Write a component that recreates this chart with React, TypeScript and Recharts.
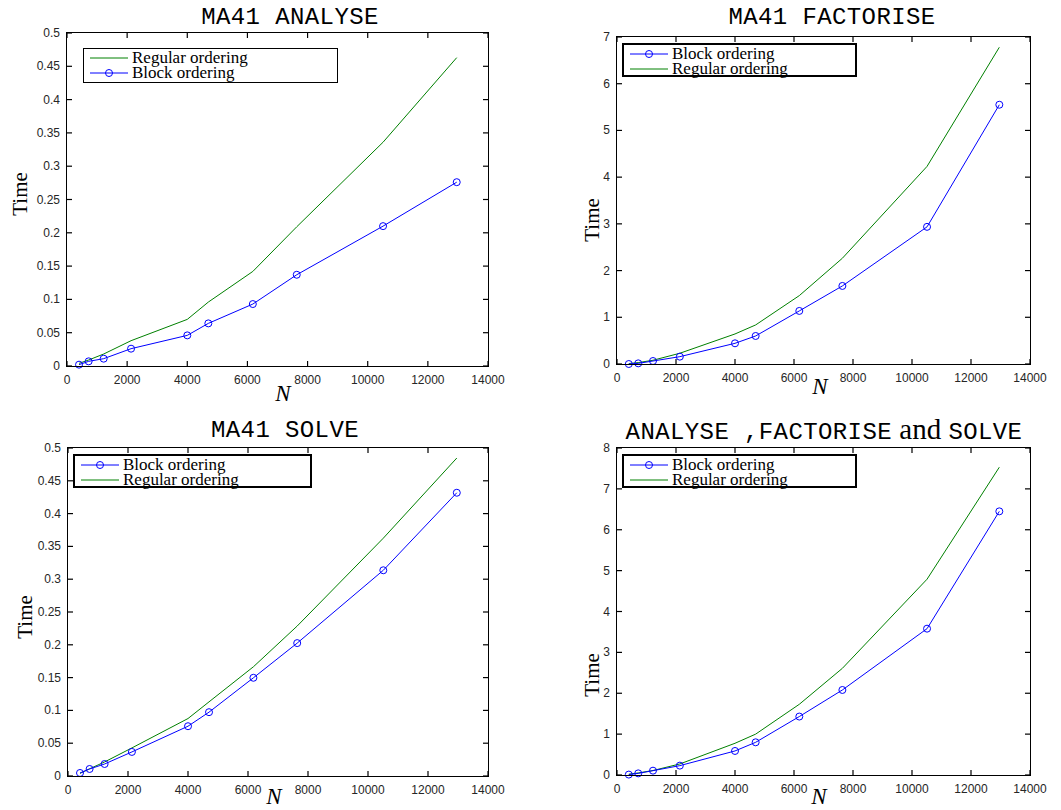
import { LineChart, Line, XAxis, YAxis } from 'recharts';

// problem sizes (shared by all four panels)
const N = [400, 720, 1220, 2130, 4000, 4700, 6180, 7640, 10510, 12960];

const analyseBlock = [0.002, 0.007, 0.011, 0.026, 0.046, 0.064, 0.093, 0.137, 0.21, 0.276];
const analyseRegular = [0.004, 0.009, 0.018, 0.038, 0.07, 0.096, 0.142, 0.209, 0.336, 0.463];
const factoriseBlock = [0.0, 0.014, 0.064, 0.157, 0.443, 0.6, 1.136, 1.671, 2.936, 5.55];
const factoriseRegular = [0.01, 0.03, 0.08, 0.23, 0.643, 0.836, 1.464, 2.264, 4.23, 6.78];
const solveBlock = [0.0046, 0.0107, 0.0183, 0.0367, 0.0759, 0.0973, 0.1497, 0.2026, 0.3136, 0.4318];
const solveRegular = [0.004, 0.011, 0.0214, 0.0428, 0.0876, 0.113, 0.1665, 0.2286, 0.3625, 0.4847];
const totalBlock = [0.01, 0.04, 0.106, 0.229, 0.588, 0.8, 1.43, 2.08, 3.58, 6.45];
const totalRegular = [0.02, 0.05, 0.11, 0.27, 0.776, 1.0, 1.73, 2.61, 4.79, 7.53];

const xTicks = [0, 2000, 4000, 6000, 8000, 10000, 12000, 14000];
const smallTicks = [0, 0.05, 0.1, 0.15, 0.2, 0.25, 0.3, 0.35, 0.4, 0.45, 0.5];
const factoriseTicks = [0, 1, 2, 3, 4, 5, 6, 7];
const totalTicks = [0, 1, 2, 3, 4, 5, 6, 7, 8];

const BLUE = '#0000ff';
const GREEN = '#008000';
const TICK = 5;
const Y_AXIS_W = 60;
const X_AXIS_H = 30;
const SANS = '"Liberation Sans", Arial, sans-serif';
const SERIF = '"Liberation Serif", "Times New Roman", serif';
const MONO = '"Liberation Mono", "DejaVu Sans Mono", monospace';

const fmt = (v: number) => String(+v.toFixed(2));

function BottomTick({ x, y, payload }: any) {
  return (
    <g>
      <line x1={x} x2={x} y1={y} y2={y - TICK} stroke="#000" strokeWidth={1.2} />
      <text x={x} y={y + 18} textAnchor="middle" fontSize={12} fill="#262626" fontFamily={SANS}>
        {payload.value}
      </text>
    </g>
  );
}
function TopTick({ x, y }: any) {
  return <line x1={x} x2={x} y1={y} y2={y + TICK} stroke="#000" strokeWidth={1.2} />;
}
function LeftTick({ x, y, payload }: any) {
  return (
    <g>
      <line x1={x} x2={x + TICK} y1={y} y2={y} stroke="#000" strokeWidth={1.2} />
      <text x={x - 7} y={y + 4} textAnchor="end" fontSize={12} fill="#262626" fontFamily={SANS}>
        {fmt(payload.value)}
      </text>
    </g>
  );
}
function RightTick({ x, y }: any) {
  return <line x1={x} x2={x - TICK} y1={y} y2={y} stroke="#000" strokeWidth={1.2} />;
}

type Key = 'block' | 'regular';
const names: Record<Key, string> = { block: 'Block ordering', regular: 'Regular ordering' };

function LegendBox({ order, box }: { order: Key[]; box: { left: number; top: number; width: number; height: number; border: number } }) {
  return (
    <div
      style={{
        position: 'absolute',
        left: box.left,
        top: box.top,
        width: box.width,
        height: box.height,
        border: `${box.border}px solid #000`,
        background: '#fff',
        boxSizing: 'border-box',
        padding: '1px 0 0 6px',
        fontFamily: SERIF,
        fontSize: 17,
        lineHeight: '15px',
        color: '#000',
      }}
    >
      {order.map((k) => (
        <div key={k} style={{ display: 'flex', alignItems: 'center', height: 15 }}>
          <svg width={38} height={10} style={{ flex: 'none' }}>
            <line x1={0} x2={38} y1={5} y2={5} stroke={k === 'block' ? BLUE : GREEN} />
            {k === 'block' && <circle cx={19} cy={5} r={3.5} fill="none" stroke={BLUE} />}
          </svg>
          <span style={{ marginLeft: 4, whiteSpace: 'nowrap' }}>{names[k]}</span>
        </div>
      ))}
    </div>
  );
}

interface PanelProps {
  left: number;
  top: number;
  width: number;
  height: number;
  margin: { top: number; right: number; bottom: number; left: number };
  block: number[];
  regular: number[];
  yMax: number;
  yTicks: number[];
}

function Panel(p: PanelProps) {
  const data = N.map((n, i) => ({ n, block: p.block[i], regular: p.regular[i] }));
  // mirror axes (top / right) take 1px each, so trim the margins by the same amount
  const margin = { ...p.margin, top: p.margin.top - 1, right: p.margin.right - 1 };
  // plot frame, derived from the same margins that place the plot area
  const frame = {
    left: p.margin.left + Y_AXIS_W,
    top: p.margin.top,
    width: p.width - p.margin.left - Y_AXIS_W - p.margin.right,
    height: p.height - p.margin.top - p.margin.bottom - X_AXIS_H,
  };
  return (
    <div style={{ position: 'absolute', left: p.left, top: p.top, width: p.width, height: p.height }}>
      <LineChart width={p.width} height={p.height} data={data} margin={margin}>
        <XAxis dataKey="n" type="number" domain={[0, 14000]} ticks={xTicks} interval={0} height={X_AXIS_H}
          tickSize={0} tickMargin={0} tick={<BottomTick />} axisLine={false} />
        <XAxis xAxisId="top" dataKey="n" orientation="top" type="number" domain={[0, 14000]} ticks={xTicks} interval={0}
          height={1} tickSize={0} tickMargin={0} tick={<TopTick />} axisLine={false} />
        <YAxis type="number" domain={[0, p.yMax]} ticks={p.yTicks} interval={0} width={Y_AXIS_W}
          tickSize={0} tickMargin={0} tick={<LeftTick />} axisLine={false} />
        <YAxis yAxisId="right" orientation="right" type="number" domain={[0, p.yMax]} ticks={p.yTicks} interval={0}
          width={1} tickSize={0} tickMargin={0} tick={<RightTick />} axisLine={false} />
        <Line type="linear" dataKey="regular" xAxisId="top" yAxisId="right" stroke={GREEN} strokeWidth={1}
          dot={false} isAnimationActive={false} />
        <Line type="linear" dataKey="block" stroke={BLUE} strokeWidth={1}
          dot={{ r: 3.5, fill: 'none', stroke: BLUE, strokeWidth: 1 }} isAnimationActive={false} />
      </LineChart>
      <div
        style={{
          position: 'absolute',
          left: frame.left - 1,
          top: frame.top - 1,
          width: frame.width + 2,
          height: frame.height + 2,
          border: '1px solid #000',
          boxSizing: 'border-box',
          pointerEvents: 'none',
          zIndex: 2,
        }}
      />
    </div>
  );
}

const centered = (x: number, y: number, extra = ''): React.CSSProperties => ({
  position: 'absolute',
  left: x,
  top: y,
  transform: `translate(-50%, -50%) ${extra}`,
  whiteSpace: 'nowrap',
  color: '#000',
});

const titleStyle = (x: number, y: number): React.CSSProperties => ({
  ...centered(x, y),
  fontFamily: MONO,
  fontSize: 24,
  letterSpacing: 0.4,
  lineHeight: '28px',
});
const timeStyle = (x: number, y: number): React.CSSProperties => ({
  ...centered(x, y, 'rotate(-90deg)'),
  fontFamily: SERIF,
  fontSize: 21,
  lineHeight: '24px',
});
const nStyle = (x: number, y: number): React.CSSProperties => ({
  ...centered(x, y),
  fontFamily: SERIF,
  fontStyle: 'italic',
  fontSize: 23,
  lineHeight: '24px',
});

export default function App() {
  return (
    <div style={{ position: 'absolute', left: 0, top: 0, width: 1061, height: 810, background: '#fff', overflow: 'hidden', fontFamily: SERIF }}>
      <Panel left={0} top={0} width={530} height={405} margin={{ top: 33, right: 42, bottom: 9, left: 7 }}
        block={analyseBlock} regular={analyseRegular} yMax={0.5} yTicks={smallTicks} />
      <Panel left={530} top={0} width={531} height={405} margin={{ top: 37, right: 31, bottom: 11, left: 27 }}
        block={factoriseBlock} regular={factoriseRegular} yMax={7} yTicks={factoriseTicks} />
      <Panel left={0} top={405} width={530} height={405} margin={{ top: 43, right: 42, bottom: 4, left: 8 }}
        block={solveBlock} regular={solveRegular} yMax={0.5} yTicks={smallTicks} />
      <Panel left={530} top={405} width={531} height={405} margin={{ top: 43, right: 31, bottom: 5, left: 27 }}
        block={totalBlock} regular={totalRegular} yMax={8} yTicks={totalTicks} />

      <LegendBox order={['regular', 'block']} box={{ left: 83, top: 48, width: 255, height: 35, border: 1 }} />
      <LegendBox order={['block', 'regular']} box={{ left: 622, top: 43, width: 235, height: 34, border: 2 }} />
      <LegendBox order={['block', 'regular']} box={{ left: 73, top: 454, width: 239, height: 34, border: 2 }} />
      <LegendBox order={['block', 'regular']} box={{ left: 622, top: 454, width: 235, height: 34, border: 2 }} />

      <div style={timeStyle(20, 194)}>Time</div>
      <div style={timeStyle(592, 220)}>Time</div>
      <div style={timeStyle(25, 617)}>Time</div>
      <div style={timeStyle(592, 675)}>Time</div>

      <div style={nStyle(283, 394)}>N</div>
      <div style={nStyle(820, 387)}>N</div>
      <div style={nStyle(274, 797)}>N</div>
      <div style={nStyle(819, 797)}>N</div>

      <div style={titleStyle(290, 18)}>MA41 ANALYSE</div>
      <div style={titleStyle(832, 18)}>MA41 FACTORISE</div>
      <div style={titleStyle(285, 431)}>MA41 SOLVE</div>
      <div style={titleStyle(824, 431)}>
        ANALYSE ,FACTORISE<span style={{ fontFamily: SERIF, fontSize: 29, letterSpacing: 0 }}>&nbsp;and&nbsp;</span>SOLVE
      </div>
    </div>
  );
}
